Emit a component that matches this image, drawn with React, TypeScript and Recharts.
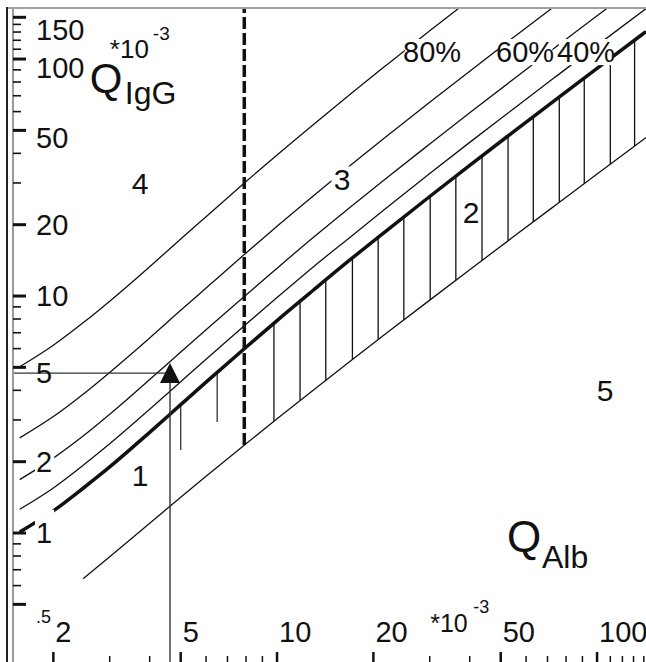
import React from "react";
import {
  ComposedChart,
  Line,
  Scatter,
  XAxis,
  YAxis,
  ReferenceLine,
  ReferenceDot,
} from "recharts";

// Reibergram for IgG — all quotients in units of 10^-3
const X_MIN = 1.496;
const X_MAX = 142.2;
const Y_MIN = 0.2856;
const Y_MAX = 162.6;

const qAlb = [1.57, 2, 2.5, 3, 4, 5, 6, 8, 10, 13, 17, 22, 30, 40, 55, 75, 100, 142.2];
const qLimIgG = [1.01, 1.24, 1.56, 1.9, 2.66, 3.48, 4.33, 6.08, 7.88, 10.6, 14.3, 18.9, 26.3, 35.6, 49.5, 68.1, 91.3, 130.6];
const intra20 = [1.26, 1.55, 1.95, 2.38, 3.33, 4.35, 5.41, 7.6, 9.85, 13.3, 17.8, 23.6, 32.9, 44.5, 61.9, 85.1, 114.2, 163.2];
const intra40 = [1.68, 2.07, 2.59, 3.17, 4.44, 5.8, 7.21, 10.1, 13.1, 17.7, 23.8, 31.5, 43.8, 59.3, 82.5, 113.5, 152.2, 217.6];
const intra60 = [2.52, 3.1, 3.89, 4.76, 6.65, 8.7, 10.8, 15.2, 19.7, 26.5, 35.7, 47.2, 65.7, 88.9, 123.8, 170.2, 228.3, 326];
const intra80 = [5.03, 6.2, 7.78, 9.51, 13.3, 17.4, 21.6, 30.4, 39.4, 53, 71.4, 94.4, 131.5, 177.9, 247.5, 340, 457, 653];

const qAlbLow = [2.48, 3, 4, 5, 6, 8, 10, 13, 17, 22, 30, 40, 55, 75, 100, 142.2];
const qLowIgG = [0.642, 0.794, 1.1, 1.415, 1.734, 2.381, 3.033, 4.015, 5.329, 6.975, 9.611, 12.91, 17.86, 24.45, 32.7, 46.63];

// vertical hatching of region 2
const hatchX = [9.78, 11.8, 14.2, 17.2, 20.7, 24.9, 30.1, 36.2, 43.7, 52.7, 63.2, 76.2, 91.2, 110, 131];
const hatchLow = [2.96, 3.62, 4.41, 5.4, 6.55, 7.93, 9.64, 11.66, 14.13, 17.1, 20.56, 24.85, 29.8, 36.0, 42.93];
const hatchHigh = [7.68, 9.51, 11.7, 14.46, 17.69, 21.57, 26.39, 32.04, 39.0, 47.36, 57.12, 69.2, 83.15, 100.6, 120.15];
const shortHatchX = [5.0, 6.5];
const shortHatchLow = [2.24, 2.94];
const shortHatchHigh = [3.48, 4.76];

// age reference line for Q_Alb, and the example patient
const refQAlb = 7.9;
const refQAlbLow = 2.35;
const patientQAlb = 4.63;
const patientQIgG = 4.73;

const Y_MAJOR = [0.5, 1, 2, 5, 10, 20, 50, 100, 150];
const Y_MINOR = [0.6, 0.7, 0.8, 0.9, 3, 4, 6, 7, 8, 9, 30, 40, 60, 70, 80, 90, 110, 120, 130, 140];
const X_MAJOR = [2, 5, 10, 20, 50, 100];
const X_MINOR = [3, 4, 6, 7, 8, 9, 30, 40, 60, 70, 80, 90, 110, 120, 130, 140];

const regionLabels = [
  { text: "4", x: 3.73, y: 29.7 },
  { text: "3", x: 15.97, y: 30.9 },
  { text: "2", x: 40.4, y: 22.6 },
  { text: "1", x: 3.73, y: 1.757 },
  { text: "5", x: 105.9, y: 4.01 },
];
const pctLabels = [
  { text: "80%", x: 30.5, y: 107 },
  { text: "60%", x: 59.6, y: 107 },
  { text: "40%", x: 92.4, y: 107 },
];

const FONT = "'Liberation Sans', Arial, sans-serif";
const INK = "#111";

const toPts = (xs: number[], ys: number[]) => xs.map((x, i) => ({ x, y: ys[i] }));

const yLabelShift: Record<number, number> = { 150: 13, 100: 9, 50: 8, 5: 6, 0.5: 13 };
const yKnock = [1, 2];

function YTick(props: any) {
  const { x, y, payload } = props;
  const v = payload.value as number;
  const major = Y_MAJOR.includes(v);
  const small = v === 0.5;
  const size = small ? 18 : 29;
  const cy = y + (yLabelShift[v] ?? 0);
  const txt = small ? ".5" : String(v);
  return (
    <g>
      {major && yKnock.includes(v) && (
        <rect x={x + 22} y={cy - size * 0.8} width={txt.length * size * 0.56 + 3} height={size * 1.25} fill="#fff" />
      )}
      <line x1={x} x2={x + (major ? 13 : 8)} y1={y} y2={y} stroke={INK} strokeWidth={major ? 3 : 1.6} />
      {major && (
        <text x={x + 23} y={cy} dominantBaseline="central" fontSize={size} fontFamily={FONT} fill={INK}>
          {txt}
        </text>
      )}
    </g>
  );
}

function XTick(props: any) {
  const { x, y, payload } = props;
  const v = payload.value as number;
  const major = X_MAJOR.includes(v);
  return (
    <g>
      <line x1={x} x2={x} y1={y} y2={y - (major ? 10 : 6)} stroke={INK} strokeWidth={major ? 2.5 : 1.5} />
      {major && (
        <text x={x + 2} y={y - 20} fontSize={29} fontFamily={FONT} fill={INK}>
          {v}
        </text>
      )}
    </g>
  );
}

const tag = (text: string, size: number, knock: boolean) => (p: any) => {
  const w = text.length * size * 0.58;
  return (
    <g>
      {knock && <rect x={p.cx - w / 2 - 2} y={p.cy - size * 0.45} width={w + 4} height={size * 0.9} fill="#fff" />}
      <text x={p.cx} y={p.cy} textAnchor="middle" dominantBaseline="central" fontSize={size} fontFamily={FONT} fill={INK}>
        {text}
      </text>
    </g>
  );
};

const igGTitle = (p: any) => (
  <g fontFamily={FONT} fill={INK}>
    <text x={p.cx} y={p.cy} fontSize={42}>Q</text>
    <text x={p.cx + 35} y={p.cy + 11} fontSize={32}>IgG</text>
    <text x={p.cx + 20} y={p.cy - 35} fontSize={26}>*10</text>
    <text x={p.cx + 63} y={p.cy - 53} fontSize={19}>-3</text>
  </g>
);

const albTitle = (p: any) => (
  <g fontFamily={FONT} fill={INK}>
    <text x={p.cx} y={p.cy} fontSize={44}>Q</text>
    <text x={p.cx + 35} y={p.cy + 16} fontSize={32}>Alb</text>
  </g>
);

const xUnit = (p: any) => (
  <g fontFamily={FONT} fill={INK}>
    <text x={p.cx} y={p.cy} fontSize={25}>*10</text>
    <text x={p.cx + 43} y={p.cy - 19} fontSize={18}>-3</text>
  </g>
);

const triangle = (p: any) => (
  <path d={`M${p.cx},${p.cy - 10} L${p.cx + 10},${p.cy + 10} L${p.cx - 10},${p.cy + 10} Z`} fill={INK} />
);

export default function App() {
  const curves = [
    { key: "lim", data: toPts(qAlb, qLimIgG), width: 3.5 },
    { key: "p20", data: toPts(qAlb, intra20), width: 1.3 },
    { key: "p40", data: toPts(qAlb, intra40), width: 1.3 },
    { key: "p60", data: toPts(qAlb, intra60), width: 1.3 },
    { key: "p80", data: toPts(qAlb, intra80), width: 1.3 },
    { key: "low", data: toPts(qAlbLow, qLowIgG), width: 1.3 },
  ];
  const patientV = [
    { x: patientQAlb, y: Y_MIN },
    { x: patientQAlb, y: patientQIgG },
  ];
  const patientH = [
    { x: X_MIN, y: patientQIgG },
    { x: patientQAlb, y: patientQIgG },
  ];

  return (
    <div style={{ position: "absolute", left: 0, top: 0, width: 646, height: 662, background: "#fff", overflow: "hidden" }}>
      <div style={{ position: "absolute", left: 6, top: 7, width: 640, height: 2, background: "#a0a0a0" }} />
      <div style={{ position: "absolute", left: 6, top: 7, width: 2, height: 655, background: "#222" }} />
      <ComposedChart width={646} height={663} margin={{ top: 9, right: 0, bottom: 0, left: 12 }}>
        <XAxis
          type="number"
          dataKey="x"
          scale="log"
          domain={[X_MIN, X_MAX]}
          allowDataOverflow
          ticks={[...X_MAJOR, ...X_MINOR]}
          interval={0}
          height={1}
          tickSize={0}
          tickMargin={0}
          axisLine={false}
          tickLine={false}
          tick={(p: any) => <XTick {...p} />}
        />
        <YAxis
          type="number"
          dataKey="y"
          scale="log"
          domain={[Y_MIN, Y_MAX]}
          allowDataOverflow
          ticks={[...Y_MAJOR, ...Y_MINOR]}
          interval={0}
          width={1}
          tickSize={0}
          tickMargin={0}
          axisLine={{ stroke: "#9a9a9a", strokeWidth: 2 }}
          tickLine={false}
          tick={(p: any) => <YTick {...p} />}
        />
        {hatchX.map((x, i) => (
          <ReferenceLine key={"h" + i} segment={[{ x, y: hatchLow[i] }, { x, y: hatchHigh[i] }]} stroke={INK} strokeWidth={1.3} />
        ))}
        {shortHatchX.map((x, i) => (
          <ReferenceLine key={"s" + i} segment={[{ x, y: shortHatchLow[i] }, { x, y: shortHatchHigh[i] }]} stroke="#333" strokeWidth={1.3} />
        ))}
        {curves.map((c) => (
          <Line
            key={c.key}
            data={c.data}
            dataKey="y"
            type="monotone"
            stroke={INK}
            strokeWidth={c.width}
            dot={false}
            activeDot={false}
            isAnimationActive={false}
          />
        ))}
        <Line data={patientV} dataKey="y" stroke="#333" strokeWidth={1.4} dot={false} activeDot={false} isAnimationActive={false} />
        <Line data={patientH} dataKey="y" stroke="#333" strokeWidth={1.4} dot={false} activeDot={false} isAnimationActive={false} />
        <ReferenceLine
          segment={[{ x: refQAlb, y: refQAlbLow }, { x: refQAlb, y: Y_MAX }]}
          stroke={INK}
          strokeWidth={3.5}
          strokeDasharray="12 4"
          ifOverflow="hidden"
        />
        <Scatter data={[{ x: patientQAlb, y: patientQIgG }]} shape={triangle} isAnimationActive={false} />
        {regionLabels.map((l) => (
          <ReferenceDot key={"r" + l.text} x={l.x} y={l.y} r={0} shape={tag(l.text, 30, l.text === "3")} />
        ))}
        {pctLabels.map((l) => (
          <ReferenceDot key={l.text} x={l.x} y={l.y} r={0} shape={tag(l.text, 29, true)} />
        ))}
        <ReferenceDot x={2.6} y={71.9} r={0} shape={igGTitle} />
        <ReferenceDot x={52.3} y={0.831} r={0} shape={albTitle} />
        <ReferenceDot x={30.1} y={0.382} r={0} shape={xUnit} />
      </ComposedChart>
    </div>
  );
}
